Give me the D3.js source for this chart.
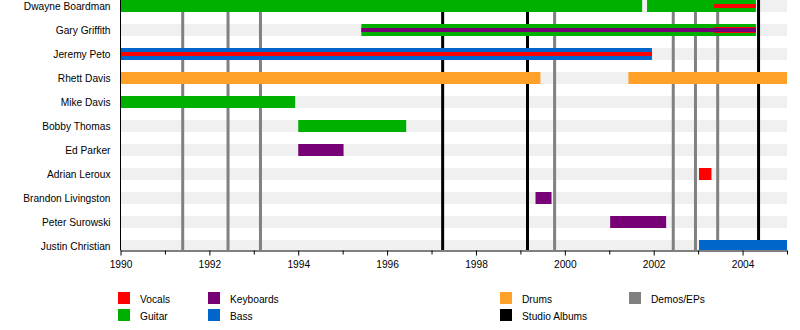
<!DOCTYPE html>
<html><head><meta charset="utf-8">
<script src="https://cdn.jsdelivr.net/npm/d3@7"></script>
<style>
html,body{margin:0;padding:0;background:#fff;}
text{font-family:"Liberation Sans",Arial,sans-serif;}
</style></head>
<body><svg id="chart" width="800" height="330"></svg>
<script>
const members = ["Dwayne Boardman","Gary Griffith","Jeremy Peto","Rhett Davis","Mike Davis","Bobby Thomas","Ed Parker","Adrian Leroux","Brandon Livingston","Peter Surowski","Justin Christian"];
const roles = ["Vocals","Guitar","Keyboards","Bass","Drums"];
const roleColors = ["#ff0000","#00b000","#770077","#0066cc","#ffa028"];
const releaseTypes = ["Demos/EPs","Studio Albums"];
const releaseColors = ["#808080","#000000"];
const demoDates = [1991.40,1992.42,1993.15,1999.77,2002.44,2002.94,2003.44];
const albumDates = [1997.25,1999.16,2004.36];
// main spans: [member, role, start, end]
const mainSpans = [
  ["Dwayne Boardman","Guitar",1990,2001.74],
  ["Dwayne Boardman","Guitar",2001.85,2004.30],
  ["Gary Griffith","Guitar",1995.42,2004.30],
  ["Jeremy Peto","Bass",1990,2001.96],
  ["Rhett Davis","Drums",1990,1999.45],
  ["Rhett Davis","Drums",2001.43,2005],
  ["Mike Davis","Guitar",1990,1993.93],
  ["Bobby Thomas","Guitar",1994.0,1996.43],
  ["Ed Parker","Keyboards",1994.0,1995.02],
  ["Adrian Leroux","Vocals",2003.02,2003.30],
  ["Brandon Livingston","Keyboards",1999.34,1999.70],
  ["Peter Surowski","Keyboards",2001.02,2002.28],
  ["Justin Christian","Bass",2003.02,2005]
];
// third-role spans (drawn under second-role stripes)
const thirdSpans = [
  ["Gary Griffith","Vocals",2003.36,2004.30]
];
// second-role spans
const secondSpans = [
  ["Dwayne Boardman","Vocals",2003.36,2004.30],
  ["Gary Griffith","Keyboards",1995.42,2004.30],
  ["Jeremy Peto","Vocals",1990,2001.96]
];
const yearStart = 1990, yearEnd = 2005;
const tickYears = d3.range(1990, 2005, 2);

const FS = 10.2;
const svg = d3.select("#chart");
const x = d3.scaleLinear().domain([yearStart, yearEnd]).range([120.5, 787]);
const y = d3.scalePoint().domain(members).range([6, 246]);
const color = d3.scaleOrdinal().domain(roles).range(roleColors);
const relColor = d3.scaleOrdinal().domain(releaseTypes).range(releaseColors);
const plotBottom = 250.5;

svg.append("defs").append("clipPath").attr("id","plot")
  .append("rect").attr("x",120).attr("y",0).attr("width",670).attr("height",250);

const plot = svg.append("g").attr("clip-path","url(#plot)");
// row bands
plot.selectAll("rect.band").data(members).join("rect").attr("class","band")
  .attr("x", x(yearStart)).attr("width", x(yearEnd)-x(yearStart))
  .attr("y", d => y(d)-6).attr("height", 12).attr("fill","#f0f0f0");
// release lines
const rel = demoDates.map(d => ({t:d, type:"Demos/EPs"})).concat(albumDates.map(d => ({t:d, type:"Studio Albums"})));
plot.selectAll("line.rel").data(rel).join("line").attr("class","rel")
  .attr("x1", d => x(d.t)).attr("x2", d => x(d.t))
  .attr("y1", 0).attr("y2", plotBottom)
  .attr("stroke", d => relColor(d.type)).attr("stroke-width", 3);
// bars
plot.selectAll("rect.main").data(mainSpans).join("rect").attr("class","main")
  .attr("x", d => x(d[2])).attr("width", d => x(d[3])-x(d[2]))
  .attr("y", d => y(d[0])-6).attr("height", 12).attr("fill", d => color(d[1]));
plot.selectAll("rect.third").data(thirdSpans).join("rect").attr("class","third")
  .attr("x", d => x(d[2])).attr("width", d => x(d[3])-x(d[2]))
  .attr("y", d => y(d[0])-3).attr("height", 6).attr("fill", d => color(d[1]));
plot.selectAll("rect.second").data(secondSpans).join("rect").attr("class","second")
  .attr("x", d => x(d[2])).attr("width", d => x(d[3])-x(d[2]))
  .attr("y", d => y(d[0])-2).attr("height", 4).attr("fill", d => color(d[1]));

// member labels
svg.selectAll("text.name").data(members).join("text").attr("class","name")
  .attr("x", 110.5).attr("y", d => y(d)+4).attr("text-anchor","end")
  .attr("font-size", FS).attr("fill","#000").text(d => d);

// axes
svg.append("line").attr("x1",120.5).attr("x2",120.5).attr("y1",0).attr("y2",plotBottom).attr("stroke","#000");
const xAxis = d3.axisBottom(x).tickValues(tickYears).tickFormat(d3.format("d")).tickSize(5).tickSizeOuter(0);
const gx = svg.append("g").attr("transform",`translate(0,${plotBottom})`).call(xAxis);
gx.select(".domain").attr("stroke","#000");
gx.selectAll("text").attr("font-size",FS).attr("font-family","Liberation Sans, Arial, sans-serif").attr("fill","#000").attr("dy","0.95em");
const minor = d3.axisBottom(x).tickValues(d3.range(1991, 2006, 2)).tickFormat("").tickSize(4).tickSizeOuter(0);
const gm = svg.append("g").attr("transform",`translate(0,${plotBottom})`).call(minor);
gm.select(".domain").remove();

// legend
const legendItems = [
  {label:"Vocals", c:color("Vocals"), x:118, y:292},
  {label:"Guitar", c:color("Guitar"), x:118, y:309},
  {label:"Keyboards", c:color("Keyboards"), x:208, y:292},
  {label:"Bass", c:color("Bass"), x:208, y:309},
  {label:"Drums", c:color("Drums"), x:500, y:292},
  {label:"Studio Albums", c:relColor("Studio Albums"), x:500, y:309},
  {label:"Demos/EPs", c:relColor("Demos/EPs"), x:629, y:292}
];
const lg = svg.selectAll("g.leg").data(legendItems).join("g").attr("class","leg");
lg.append("rect").attr("x", d => d.x).attr("y", d => d.y).attr("width",12).attr("height",12).attr("fill", d => d.c);
lg.append("text").attr("x", d => d.x+22).attr("y", d => d.y+11).attr("font-size",FS).attr("fill","#000").text(d => d.label);
</script></body></html>
